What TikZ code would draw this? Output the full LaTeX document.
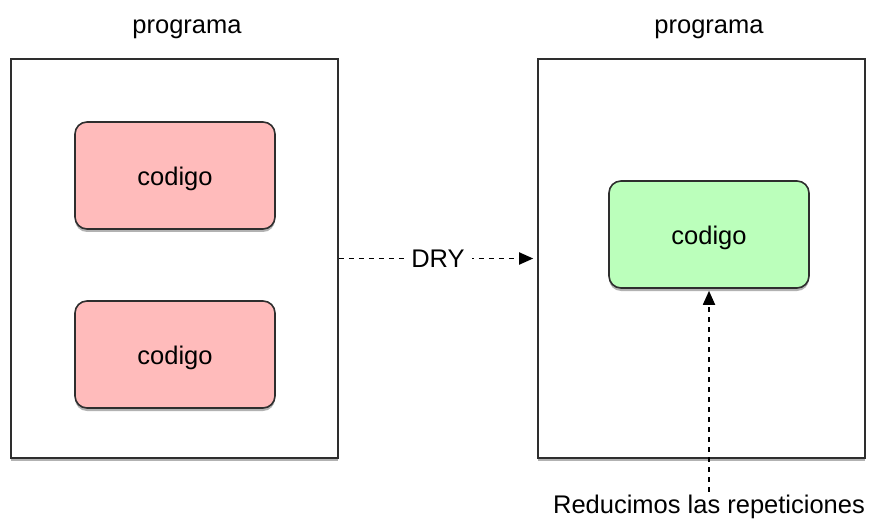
\documentclass[tikz,border=0pt]{standalone}
\usepackage{fontspec}
\setmainfont{Liberation Sans}
\usetikzlibrary{shadows,arrows.meta}
\definecolor{redfill}{HTML}{FFBBBB}
\definecolor{greenfill}{HTML}{BBFFBB}
\definecolor{edgecol}{HTML}{2E2E2E}
\begin{document}
\begin{tikzpicture}[x=1pt,y=-1pt,
  font=\fontsize{25.5}{30}\selectfont,
  softshadow/.style={drop shadow={shadow xshift=0pt,shadow yshift=-3pt,opacity=0.3,fill=black}},
  progbox/.style={draw=edgecol,line width=1.6pt,fill=white,softshadow,minimum width=327pt,minimum height=399pt,inner sep=0pt},
  codebox/.style={draw=edgecol,line width=1.6pt,rounded corners=12pt,softshadow,minimum width=200pt,minimum height=107pt,inner sep=0pt},
  dashedarrow/.style={draw=black,line width=1.8pt,dash pattern=on 5pt off 5pt,-{Triangle[length=14pt,width=12pt]}}
]
\useasboundingbox (0,0) rectangle (869,521);
\node[progbox] (L) at (174.5,258.5) {};
\node[progbox] (R) at (701.5,258.5) {};
\node (t1) at (187,29) {programa};
\node (t2) at (709,29) {programa};
\node[codebox,fill=redfill] (c1) at (175,175.5) {\raisebox{-3.5pt}[\height][\depth]{codigo}};
\node[codebox,fill=redfill] (c2) at (175,354.5) {\raisebox{-3.5pt}[\height][\depth]{codigo}};
\node[codebox,fill=greenfill] (g) at (709,234.5) {\raisebox{-3.5pt}[\height][\depth]{codigo}};
\draw[dashedarrow,shorten >=4pt] (L.east) -- node[fill=white,inner sep=7pt] {DRY} (R.west);
\node (note) at (709,507) {Reducimos las repeticiones};
\draw[dashedarrow,shorten >=2pt] (note.north) -- (g.south);
\end{tikzpicture}
\end{document}
